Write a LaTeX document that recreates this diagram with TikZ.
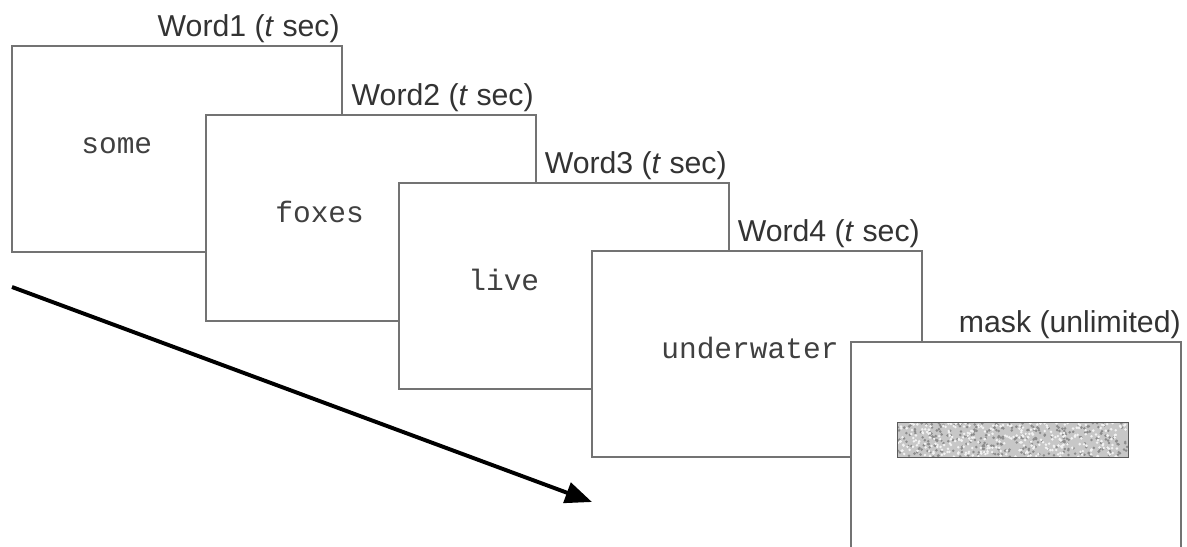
\documentclass[tikz,border=0pt]{standalone}
\usepackage{fontspec}
\setmainfont{Liberation Sans}
\setmonofont{Liberation Mono}
\usetikzlibrary{calc,arrows.meta}

\tikzset{
  screen/.style={draw=black!55, line width=1.3pt, fill=white, inner sep=0pt,
    minimum width=8.25cm, minimum height=5.15cm},
  stimulus/.style={anchor=base west, inner sep=0pt, text=black!75,
    font=\ttfamily\fontsize{21}{24}\selectfont},
  duration/.style={anchor=base east, inner sep=0pt, text=black!80,
    font=\fontsize{21.5}{25}\selectfont},
  timeline/.style={line width=2.8pt, -{Triangle[length=19pt,width=15pt]}}
}

\begin{document}
\begin{tikzpicture}[x=0.025cm, y=-0.025cm]
		\clip (0,0) rectangle (1187,546);
		\fill[white] (0,0) rectangle (1187,546);
		% time arrow
		\coordinate (start) at (12,287);
		\coordinate (stop) at (592,502);
		\draw[timeline] (start) -- (stop);
		% the five screens, back to front
		\node[screen] (f1) at (177,149) {};
		\node[stimulus] (w1) at ($(f1.north west)+(70,108)$) {some};
		\node[duration] (d1) at ($(f1.north east)+(-3,-9)$) {Word1 (\textit{t} sec)};
		\node[screen] (f2) at (371,218) {};
		\node[stimulus] (w2) at ($(f2.north west)+(70,108)$) {foxes};
		\node[duration] (d2) at ($(f2.north east)+(-3,-9)$) {Word2 (\textit{t} sec)};
		\node[screen] (f3) at (564,286) {};
		\node[stimulus] (w3) at ($(f3.north west)+(70,108)$) {live};
		\node[duration] (d3) at ($(f3.north east)+(-3,-9)$) {Word3 (\textit{t} sec)};
		\node[screen] (f4) at (757,354) {};
		\node[stimulus] (w4) at ($(f4.north west)+(70,108)$) {underwater};
		\node[duration] (d4) at ($(f4.north east)+(-3,-9)$) {Word4 (\textit{t} sec)};
		\node[screen] (f5) at (1016,445) {};
		\node[duration] (d5) at ($(f5.north east)+(-1,-9)$) {mask (unlimited)};
		% noise bar
		\node[fill=black!22, inner sep=0pt, minimum width=5.75cm, minimum height=0.85cm] (bar) at (1013,440) {};
		\begin{scope}
		\clip (bar.south west) rectangle (bar.north east);
		\pgfmathsetseed{7}
		\foreach \i in {1,...,300}
			\fill[black!45] ($(bar.north west)+({rnd*230},{rnd*34})$) circle[radius=1pt];
		\foreach \i in {1,...,300}
			\fill[black!5] ($(bar.north west)+({rnd*230},{rnd*34})$) circle[radius=1pt];
		\end{scope}
		\draw[black!65, line width=1pt] (bar.south west) rectangle (bar.north east);
\end{tikzpicture}
\end{document}
